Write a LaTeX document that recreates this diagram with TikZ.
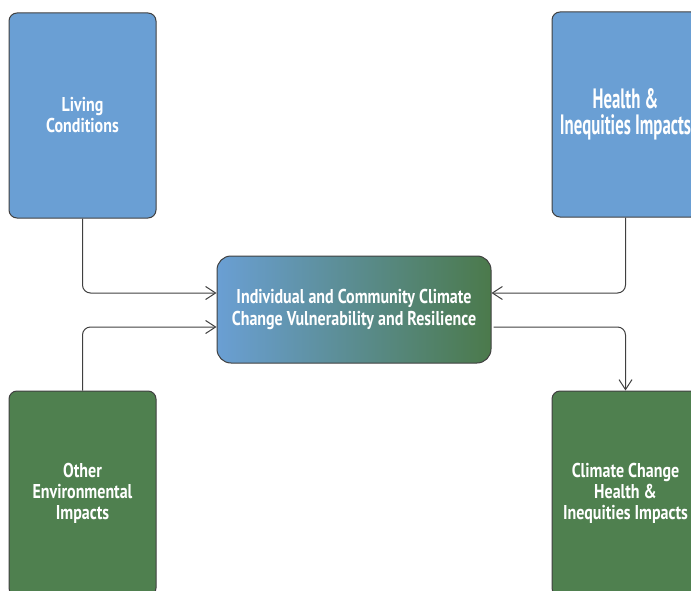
\documentclass[tikz,border=0pt]{standalone}
\usepackage{fontspec}
\newfontfamily\boxfont{PT Sans}[FakeStretch=0.8]
\newfontfamily\bigboxfont{PT Sans}[FakeStretch=0.6]
\usetikzlibrary{arrows.meta}

\definecolor{boxblue}{RGB}{106,159,212}
\definecolor{boxgreen}{RGB}{79,128,79}
\definecolor{edgegray}{RGB}{64,64,64}

\tikzset{
    factor/.style={draw=edgegray, line width=1pt, rounded corners=8pt,
        minimum width=147pt, minimum height=205pt, inner sep=0pt,
        text=white, align=center,
        font=\boxfont\bfseries\fontsize{20}{21}\selectfont},
    bluebox/.style={factor, fill=boxblue},
    greenbox/.style={factor, fill=boxgreen},
    conn/.style={draw=edgegray, line width=1pt, rounded corners=8pt,
        -{Straight Barb[length=10pt, width=13pt, line width=1pt]}}
}

\begin{document}
\begin{tikzpicture}[x=1pt, y=-1pt]
        \clip (0,0) rectangle (691,591);
        \useasboundingbox (0,0) rectangle (691,591);

        \node[bluebox] (living) at (82.5,115.5) {Living\\Conditions};
        \node[bluebox, font=\bigboxfont\bfseries\fontsize{28}{26}\selectfont]
            (health) at (625.5,114.5) {Health \&\\Inequities Impacts};
        \node[greenbox] (other) at (82.5,493.5) {Other\\Environmental\\Impacts};
        \node[greenbox] (cchealth) at (625.5,493.5)
            {Climate Change\\Health \&\\Inequities Impacts};

        \node[draw=edgegray, line width=1pt, rounded corners=14pt,
            left color=boxblue, right color=boxgreen!95!black,
            minimum width=274pt, minimum height=107pt, inner sep=0pt,
            text=white, align=center,
            font=\boxfont\bfseries\fontsize{20}{22}\selectfont]
            (vuln) at (354,309.5)
            {Individual and Community Climate\\Change Vulnerability and Resilience};

        \draw[conn] (living.south) |- ([yshift=16.5pt]vuln.west);
        \draw[conn] (other.north) |- ([yshift=-17.5pt]vuln.west);
        \draw[conn] (health.south) |- ([yshift=16.5pt]vuln.east);
        \draw[conn] ([xshift=2pt, yshift=-17.5pt]vuln.east) -| (cchealth.north);
    \end{tikzpicture}
\end{document}
